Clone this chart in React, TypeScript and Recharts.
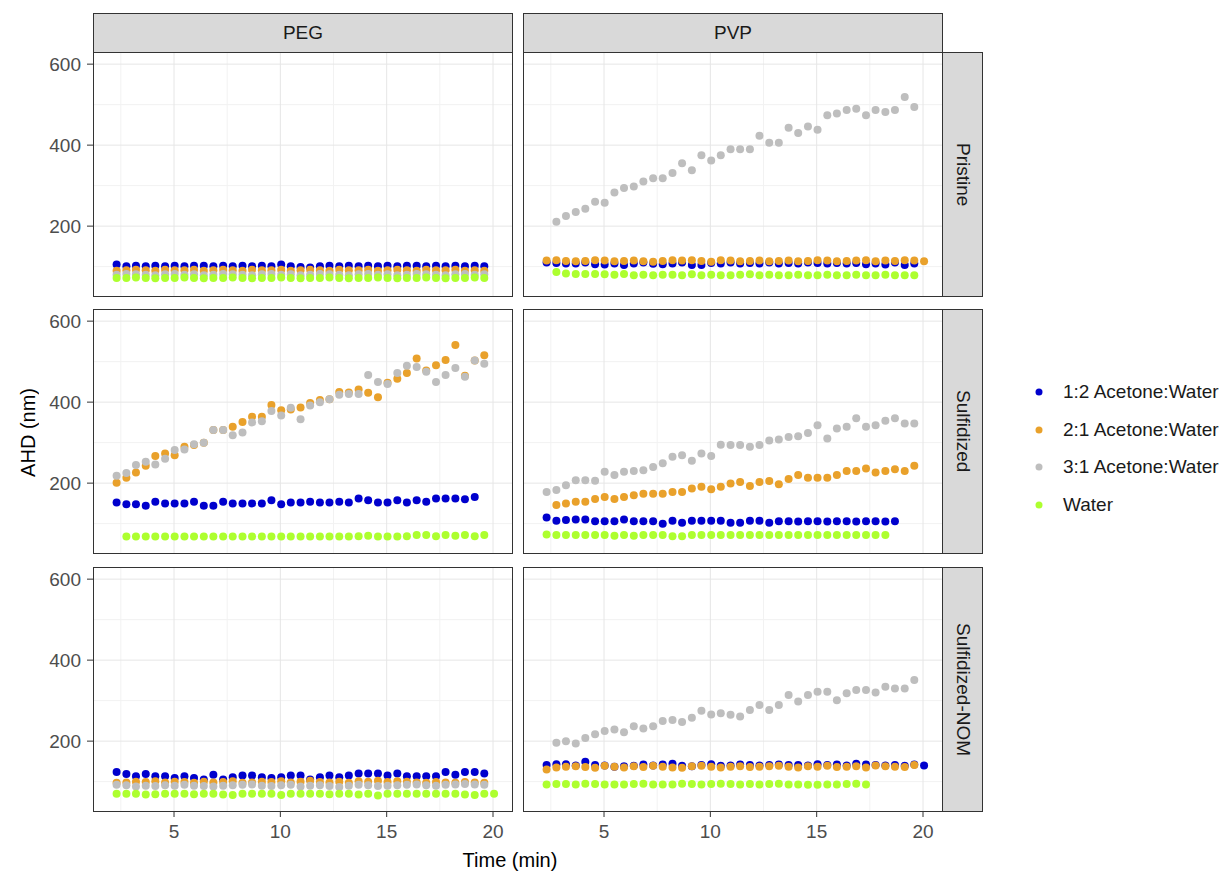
import React from 'react'
import { ReferenceLine, Scatter, ScatterChart, XAxis, YAxis } from 'recharts'

// sampling times (min), shared by every series; each series starts at an index into it
const TIMES = [
  2.3, 2.76, 3.21, 3.67, 4.12, 4.58, 5.03, 5.49, 5.94, 6.4, 6.85, 7.31, 7.76, 8.22, 8.67, 9.13, 9.58, 10.04, 10.49, 10.95,
  11.4, 11.86, 12.31, 12.77, 13.22, 13.68, 14.13, 14.59, 15.04, 15.5, 15.95, 16.41, 16.86, 17.32, 17.77, 18.23, 18.68, 19.14, 19.59, 20.05,
]

const SOLVENTS = ['1:2 Acetone:Water', '2:1 Acetone:Water', '3:1 Acetone:Water', 'Water']
const COLORS = ['#0000CD', '#E9A12B', '#BEBEBE', '#ADFF2F']
const POLYMERS = ['PEG', 'PVP']
const TREATMENTS = ['Pristine', 'Sulfidized', 'Sulfidized-NOM']

const X_TICKS = [5, 10, 15, 20]
const X_MINOR = [2.5, 7.5, 12.5, 17.5]
const Y_TICKS = [200, 400, 600]
const Y_MINOR = [100, 300, 500]

// PEG / Pristine
const PEG_PRI_12 = [105, 101, 102, 101, 102, 101, 102, 101, 102, 102, 101, 102, 101, 102, 101, 102, 101, 105, 101, 99, 98, 101, 102, 101, 102, 101, 102, 101, 102, 101, 102, 102, 101, 102, 101, 102, 101, 102, 101]
const PEG_PRI_21 = [90, 91, 92, 91, 90, 92, 91, 91, 92, 90, 91, 92, 91, 90, 92, 91, 91, 92, 90, 91, 92, 91, 90, 92, 91, 91, 92, 90, 91, 92, 91, 90, 92, 91, 91, 92, 90, 91, 90]
const PEG_PRI_31 = [80, 82, 81, 80, 79, 81, 82, 80, 81, 79, 80, 82, 81, 80, 79, 81, 82, 80, 81, 79, 80, 82, 81, 80, 79, 81, 82, 80, 81, 79, 80, 82, 81, 80, 79, 81, 82, 80, 81]
const PEG_PRI_W = [72, 72, 73, 72, 71, 72, 72, 73, 72, 71, 72, 72, 73, 72, 71, 72, 72, 73, 72, 71, 72, 72, 73, 72, 71, 72, 72, 73, 72, 71, 72, 72, 73, 72, 71, 72, 72, 73, 72]

// PVP / Pristine
const PVP_PRI_12 = [110, 109, 108, 108, 110, 106, 105, 108, 104, 108, 110, 107, 106, 108, 110, 104, 104, 109, 108, 110, 108, 109, 108, 110, 108, 109, 108, 110, 109, 108, 109, 108, 109, 106, 108, 105, 110, 104, 108]
const PVP_PRI_21 = [115, 116, 114, 113, 114, 116, 115, 113, 114, 115, 113, 112, 114, 116, 115, 116, 114, 112, 116, 115, 113, 114, 115, 113, 114, 115, 113, 114, 116, 115, 113, 114, 115, 116, 113, 115, 114, 116, 115, 113]
const PVP_PRI_31 = [211, 225, 235, 243, 260, 258, 283, 294, 298, 310, 318, 318, 331, 355, 338, 375, 362, 375, 390, 390, 390, 423, 406, 406, 443, 430, 446, 438, 474, 478, 487, 490, 474, 487, 482, 487, 519, 494]
const PVP_PRI_W = [87, 83, 82, 82, 82, 81, 80, 82, 79, 80, 79, 80, 80, 79, 81, 79, 80, 79, 79, 80, 81, 79, 80, 79, 79, 80, 79, 79, 80, 79, 79, 80, 79, 79, 80, 79, 79, 79]

// PEG / Sulfidized
const PEG_SUL_12 = [152, 148, 148, 144, 154, 150, 150, 150, 154, 144, 144, 154, 150, 150, 150, 150, 158, 148, 152, 152, 154, 152, 152, 154, 152, 162, 158, 152, 152, 158, 152, 158, 154, 162, 162, 162, 160, 166]
const PEG_SUL_21 = [201, 213, 226, 243, 267, 273, 269, 290, 294, 300, 331, 331, 339, 351, 364, 364, 393, 380, 382, 387, 398, 405, 407, 425, 424, 431, 423, 412, 448, 458, 472, 508, 478, 491, 504, 541, 465, 503, 516]
const PEG_SUL_31 = [218, 225, 245, 253, 246, 260, 282, 283, 296, 300, 331, 331, 318, 325, 350, 353, 378, 367, 386, 358, 392, 400, 407, 418, 420, 420, 467, 450, 445, 472, 490, 487, 475, 450, 467, 484, 463, 503, 495]
const PEG_SUL_W = [68, 68, 68, 68, 68, 68, 68, 68, 68, 68, 68, 68, 68, 68, 68, 68, 68, 68, 68, 68, 68, 68, 68, 68, 69, 70, 68, 68, 68, 69, 72, 72, 69, 72, 70, 72, 69, 72]

// PVP / Sulfidized
const PVP_SUL_12 = [115, 107, 109, 110, 110, 106, 106, 106, 110, 106, 106, 106, 100, 107, 102, 107, 107, 107, 107, 102, 102, 107, 107, 102, 106, 106, 105, 106, 106, 105, 106, 106, 105, 106, 106, 105, 106]
const PVP_SUL_21 = [146, 150, 154, 154, 161, 166, 161, 166, 170, 174, 174, 174, 178, 178, 187, 191, 185, 191, 199, 203, 193, 203, 205, 197, 210, 220, 213, 213, 213, 220, 230, 230, 236, 226, 230, 234, 230, 243]
const PVP_SUL_31 = [178, 183, 195, 207, 207, 206, 228, 220, 228, 230, 232, 240, 249, 265, 269, 255, 273, 267, 295, 294, 294, 290, 294, 305, 308, 314, 316, 324, 343, 310, 335, 339, 360, 339, 343, 354, 360, 347, 347]
const PVP_SUL_W = [73, 72, 72, 72, 72, 72, 72, 70, 72, 70, 72, 72, 72, 69, 69, 72, 72, 72, 72, 72, 72, 72, 72, 72, 72, 72, 72, 72, 72, 72, 72, 72, 72, 72, 72, 72]

// PEG / Sulfidized-NOM
const PEG_NOM_12 = [124, 119, 113, 119, 113, 113, 109, 113, 109, 105, 117, 105, 111, 115, 115, 111, 109, 111, 115, 115, 105, 111, 115, 111, 115, 120, 120, 120, 115, 120, 113, 113, 113, 113, 124, 117, 124, 124, 120]
const PEG_NOM_21 = [97, 98, 100, 99, 101, 98, 100, 99, 97, 100, 98, 99, 101, 97, 98, 100, 99, 101, 98, 100, 102, 99, 98, 100, 97, 101, 100, 102, 99, 101, 100, 98, 97, 99, 98, 97, 99, 98, 97]
const PEG_NOM_31 = [92, 91, 88, 90, 89, 91, 90, 92, 90, 89, 88, 90, 91, 92, 93, 90, 89, 91, 92, 88, 90, 91, 89, 87, 90, 92, 91, 89, 90, 91, 92, 93, 91, 90, 92, 93, 94, 93, 92]
const PEG_NOM_W = [70, 70, 70, 68, 69, 70, 70, 70, 69, 70, 70, 68, 67, 70, 70, 70, 70, 67, 70, 70, 70, 70, 69, 70, 70, 68, 70, 66, 70, 70, 70, 70, 70, 70, 70, 70, 68, 67, 70, 70]

// PVP / Sulfidized-NOM
const PVP_NOM_12 = [141, 143, 143, 140, 149, 141, 140, 137, 138, 139, 142, 140, 142, 144, 139, 138, 141, 143, 139, 140, 142, 141, 140, 141, 142, 141, 141, 140, 143, 141, 142, 140, 144, 142, 141, 140, 141, 139, 142, 140]
const PVP_NOM_21 = [130, 135, 137, 138, 136, 134, 139, 137, 135, 138, 136, 139, 137, 135, 134, 138, 139, 137, 135, 137, 138, 136, 137, 138, 139, 137, 135, 138, 137, 139, 136, 137, 138, 135, 140, 138, 137, 136, 141]
const PVP_NOM_31 = [196, 200, 194, 208, 217, 225, 229, 222, 237, 231, 237, 250, 252, 247, 258, 275, 266, 269, 265, 261, 277, 289, 277, 289, 314, 298, 314, 322, 322, 301, 318, 326, 326, 320, 334, 330, 330, 351]
const PVP_NOM_W = [93, 94, 94, 93, 95, 94, 93, 93, 93, 94, 95, 93, 93, 93, 95, 94, 93, 94, 95, 94, 93, 94, 93, 94, 95, 93, 93, 92, 92, 93, 93, 94, 95, 93]

// [solvent index, start index in TIMES, values], per panel [row][col]
type SeriesDef = [number, number, number[]]
const PANELS: SeriesDef[][][] = [
  [
    [[0, 0, PEG_PRI_12], [1, 0, PEG_PRI_21], [2, 0, PEG_PRI_31], [3, 0, PEG_PRI_W]],
    [[0, 0, PVP_PRI_12], [1, 0, PVP_PRI_21], [2, 1, PVP_PRI_31], [3, 1, PVP_PRI_W]],
  ],
  [
    [[0, 0, PEG_SUL_12], [1, 0, PEG_SUL_21], [2, 0, PEG_SUL_31], [3, 1, PEG_SUL_W]],
    [[0, 0, PVP_SUL_12], [1, 1, PVP_SUL_21], [2, 0, PVP_SUL_31], [3, 0, PVP_SUL_W]],
  ],
  [
    [[0, 0, PEG_NOM_12], [1, 0, PEG_NOM_21], [2, 0, PEG_NOM_31], [3, 0, PEG_NOM_W]],
    [[0, 0, PVP_NOM_12], [1, 0, PVP_NOM_21], [2, 1, PVP_NOM_31], [3, 0, PVP_NOM_W]],
  ],
]

const COL_LEFT = [93, 523]
const ROW_TOP = [52, 309, 567]
const PW = 420
const PH = 245
const BORDER = '#333333'
const FONT = '"Liberation Sans", Arial, sans-serif'

const dot = (color: string) => (props: any) => <circle cx={props.cx} cy={props.cy} r={4} fill={color} />

function Panel({ row, col }: { row: number; col: number }) {
  const showY = col === 0
  const showX = row === 2
  const yW = 60
  const xH = 35
  const left = COL_LEFT[col] - (showY ? yW : 0)
  const top = ROW_TOP[row]
  const series = PANELS[row][col]
  const tickStyle = { fill: '#4D4D4D', fontSize: 19, fontFamily: FONT }

  return (
    <>
      <div style={{ position: 'absolute', left, top }}>
        <ScatterChart
          width={PW + (showY ? yW : 0)}
          height={PH + (showX ? xH : 0)}
          margin={{ top: 0, right: 0, bottom: 0, left: 0 }}
        >
          <XAxis
            type="number"
            dataKey="t"
            domain={[1.19, 20.94]}
            ticks={X_TICKS}
            allowDataOverflow
            hide={!showX}
            height={xH}
            axisLine={false}
            tickLine={{ stroke: BORDER }}
            tickSize={5}
            tickMargin={8}
            tick={tickStyle}
          />
          <YAxis
            type="number"
            dataKey="v"
            domain={[25, 630]}
            ticks={Y_TICKS}
            allowDataOverflow
            hide={!showY}
            width={yW}
            axisLine={false}
            tickLine={{ stroke: BORDER }}
            tickSize={6}
            tickMargin={6}
            tick={tickStyle}
          />
          {Y_MINOR.map((v) => (
            <ReferenceLine key={'ym' + v} y={v} stroke="#F2F2F2" strokeWidth={1} />
          ))}
          {X_MINOR.map((v) => (
            <ReferenceLine key={'xm' + v} x={v} stroke="#F2F2F2" strokeWidth={1} />
          ))}
          {Y_TICKS.map((v) => (
            <ReferenceLine key={'y' + v} y={v} stroke="#E6E6E6" strokeWidth={1} />
          ))}
          {X_TICKS.map((v) => (
            <ReferenceLine key={'x' + v} x={v} stroke="#E6E6E6" strokeWidth={1} />
          ))}
          {series.map(([s, start, values]) => (
            <Scatter
              key={s}
              name={SOLVENTS[s]}
              data={values.map((v, i) => ({ t: TIMES[start + i], v }))}
              fill={COLORS[s]}
              shape={dot(COLORS[s])}
              isAnimationActive={false}
            />
          ))}
        </ScatterChart>
      </div>
      <div
        style={{
          position: 'absolute',
          left: COL_LEFT[col],
          top,
          width: PW,
          height: PH,
          border: `1px solid ${BORDER}`,
          boxSizing: 'border-box',
          pointerEvents: 'none',
        }}
      />
    </>
  )
}

export default function App() {
  return (
    <div
      style={{
        position: 'absolute',
        left: 0,
        top: 0,
        width: 1228,
        height: 877,
        background: '#FFFFFF',
        fontFamily: FONT,
        overflow: 'hidden',
      }}
    >
      {POLYMERS.map((p, c) => (
        <div
          key={p}
          style={{
            position: 'absolute',
            left: COL_LEFT[c],
            top: 13,
            width: PW,
            height: 40,
            background: '#D9D9D9',
            border: `1px solid ${BORDER}`,
            boxSizing: 'border-box',
            display: 'flex',
            alignItems: 'center',
            justifyContent: 'center',
            fontSize: 19,
            color: '#1A1A1A',
          }}
        >
          {p}
        </div>
      ))}
      {TREATMENTS.map((t, r) => (
        <div
          key={t}
          style={{
            position: 'absolute',
            left: COL_LEFT[1] + PW - 1,
            top: ROW_TOP[r],
            width: 41,
            height: PH,
            background: '#D9D9D9',
            border: `1px solid ${BORDER}`,
            boxSizing: 'border-box',
            display: 'flex',
            alignItems: 'center',
            justifyContent: 'center',
            fontSize: 19,
            color: '#1A1A1A',
          }}
        >
          <span style={{ writingMode: 'vertical-rl' }}>{t}</span>
        </div>
      ))}
      {TREATMENTS.map((t, r) =>
        POLYMERS.map((p, c) => <Panel key={t + p} row={r} col={c} />)
      )}
      <div
        style={{
          position: 'absolute',
          left: 14,
          top: ROW_TOP[0],
          height: ROW_TOP[2] + PH - ROW_TOP[0],
          width: 28,
          display: 'flex',
          alignItems: 'center',
          justifyContent: 'center',
          fontSize: 20,
          color: '#000',
        }}
      >
        <span style={{ writingMode: 'vertical-rl', transform: 'rotate(180deg)', whiteSpace: 'nowrap' }}>AHD (nm)</span>
      </div>
      <div
        style={{
          position: 'absolute',
          left: 310,
          width: 400,
          top: 849,
          textAlign: 'center',
          fontSize: 20,
          color: '#000',
        }}
      >
        Time (min)
      </div>
      <div style={{ position: 'absolute', left: 1029, top: 373 }}>
        {SOLVENTS.map((s, i) => (
          <div key={s} style={{ height: 37.7, display: 'flex', alignItems: 'center' }}>
            <svg width={20} height={20}>
              <circle cx={10} cy={10} r={3.5} fill={COLORS[i]} />
            </svg>
            <span style={{ marginLeft: 14, fontSize: 19, color: '#1A1A1A', whiteSpace: 'nowrap' }}>{s}</span>
          </div>
        ))}
      </div>
    </div>
  )
}
